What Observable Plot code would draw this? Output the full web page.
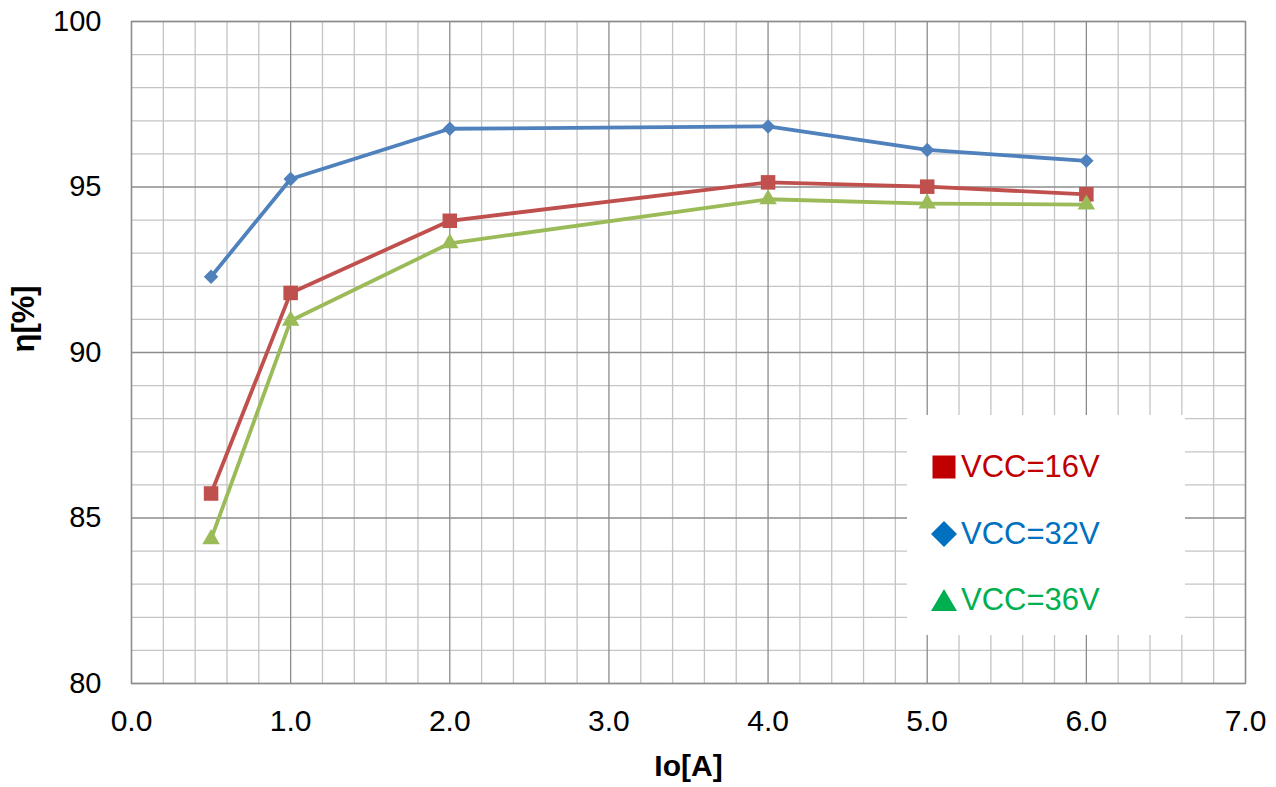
<!DOCTYPE html>
<html>
<head>
<meta charset="utf-8">
<script src="https://cdn.jsdelivr.net/npm/d3@7"></script>
<script src="https://cdn.jsdelivr.net/npm/@observablehq/plot@0.6"></script>
<style>
  html, body { margin: 0; padding: 0; background: #fff; }
  #wrap { position: relative; width: 1276px; height: 787px; font-family: "Liberation Sans", Arial, sans-serif; }
  #legend { position: absolute; left: 907px; top: 415px; width: 278px; height: 220px; background: #fff; }
  .item { position: absolute; left: 24px; height: 34px; display: flex; align-items: center; font-size: 31px; }
  .item svg { margin-right: 4px; }
</style>
</head>
<body>
<div id="wrap"></div>
<script>
// Data
const currents = [0.5, 1.0, 2.0, 4.0, 5.0, 6.0];
const eff16 = [85.74, 91.8, 93.98, 95.14, 95.01, 94.78];
const eff32 = [92.29, 95.24, 96.76, 96.83, 96.12, 95.79];
const eff36 = [84.36, 90.96, 93.3, 94.63, 94.5, 94.47];
const seriesNames = ["VCC=16V", "VCC=32V", "VCC=36V"];
const lineColors = ["#C0504D", "#4F81BD", "#9BBB59"];
const legendColors = ["#C00000", "#0070C0", "#00B050"];

const xTicks = [0, 1, 2, 3, 4, 5, 6, 7];
const xMinorTicks = [0.2, 0.4, 0.6, 0.8, 1.2, 1.4, 1.6, 1.8, 2.2, 2.4, 2.6, 2.8, 3.2, 3.4, 3.6, 3.8, 4.2, 4.4, 4.6, 4.8, 5.2, 5.4, 5.6, 5.8, 6.2, 6.4, 6.6, 6.8];
const yTicks = [80, 85, 90, 95, 100];
const yMinorTicks = [81, 82, 83, 84, 86, 87, 88, 89, 91, 92, 93, 94, 96, 97, 98, 99];

const mk = (vals, name) => currents.map((c, i) => ({x: c, y: vals[i], s: name}));
const d16 = mk(eff16, seriesNames[0]);
const d32 = mk(eff32, seriesNames[1]);
const d36 = mk(eff36, seriesNames[2]);

const chart = Plot.plot({
  width: 1276,
  height: 787,
  marginLeft: 131,
  marginRight: 31,
  marginTop: 21,
  marginBottom: 104,
  style: {fontFamily: "Liberation Sans, Arial, sans-serif", background: "#fff", color: "#000"},
  x: {domain: [0, 7]},
  y: {domain: [80, 100]},
  marks: [
    Plot.ruleX(xMinorTicks, {stroke: "#c4c4c4", strokeWidth: 1.3}),
    Plot.ruleY(yMinorTicks, {stroke: "#c4c4c4", strokeWidth: 1.3}),
    Plot.ruleX(xTicks, {stroke: "#8c8c8c", strokeWidth: 1.3}),
    Plot.ruleY(yTicks, {stroke: "#8c8c8c", strokeWidth: 1.3}),
    Plot.frame({stroke: "#8c8c8c", strokeWidth: 1.3}),
    Plot.axisX({ticks: xTicks, tickSize: 0, tickPadding: 26, fontSize: 30, tickFormat: d => d.toFixed(1), label: null}),
    Plot.axisY({ticks: yTicks, tickSize: 0, tickPadding: 30, fontSize: 29, label: null}),
    Plot.line(d16, {x: "x", y: "y", stroke: lineColors[0], strokeWidth: 3.8}),
    Plot.dot(d16, {x: "x", y: "y", symbol: "square", r: 8.2, fill: lineColors[0]}),
    Plot.line(d32, {x: "x", y: "y", stroke: lineColors[1], strokeWidth: 3.8}),
    Plot.dot(d32, {x: "x", y: "y", symbol: "diamond2", r: 6.5, fill: lineColors[1]}),
    Plot.line(d36, {x: "x", y: "y", stroke: lineColors[2], strokeWidth: 3.8}),
    Plot.dot(d36, {x: "x", y: "y", symbol: "triangle", r: 6.5, fill: lineColors[2]}),
    Plot.text(["Io[A]"], {frameAnchor: "bottom", dy: 83, fontSize: 30, fontWeight: "bold", lineAnchor: "middle"}),
    Plot.text(["η[%]"], {frameAnchor: "left", dx: -107, rotate: -90, fontSize: 31, fontWeight: "bold", lineAnchor: "middle"})
  ]
});

const wrap = document.getElementById("wrap");
wrap.appendChild(chart);

// Legend overlay
const legend = document.createElement("div");
legend.id = "legend";
const shapes = [
  '<svg width="26" height="26" viewBox="0 0 26 26"><rect x="1.5" y="1.5" width="23" height="23" fill="COLOR"/></svg>',
  '<svg width="26" height="26" viewBox="0 0 26 26"><polygon points="13,0 26,13 13,26 0,13" fill="COLOR"/></svg>',
  '<svg width="26" height="26" viewBox="0 0 26 26"><polygon points="13,2 26,24 0,24" fill="COLOR"/></svg>'
];
const rowTops = [35, 102, 168];
seriesNames.forEach((name, i) => {
  const it = document.createElement("div");
  it.className = "item";
  it.style.top = rowTops[i] + "px";
  it.style.color = legendColors[i];
  it.innerHTML = shapes[i].replace("COLOR", legendColors[i]) + "<span>" + name + "</span>";
  legend.appendChild(it);
});
wrap.appendChild(legend);
</script>
</body>
</html>
